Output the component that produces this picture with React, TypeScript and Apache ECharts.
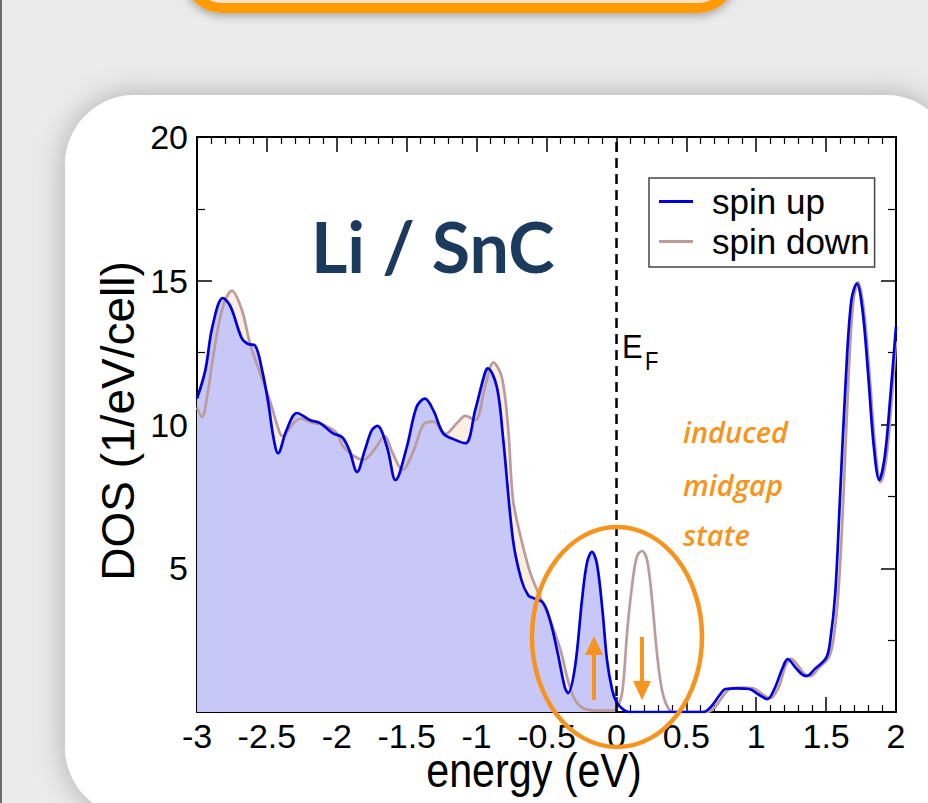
import React, { useEffect, useRef } from "react";
import * as echarts from "echarts";

// ---- data ----
const upEnergy = [
  -3.0, -2.94, -2.89, -2.815, -2.76, -2.68, -2.635, -2.585, -2.535, -2.49, -2.455, -2.42, -2.36, -2.285,
  -2.19, -2.12, -2.03, -1.96, -1.91, -1.855, -1.8, -1.75, -1.71, -1.64, -1.58, -1.5, -1.43, -1.37, -1.31,
  -1.24, -1.17, -1.08, -1.01, -0.94, -0.92, -0.855, -0.81, -0.74, -0.68, -0.63, -0.597, -0.525, -0.475,
  -0.42, -0.37, -0.346, -0.296, -0.246, -0.21, -0.175, -0.14, -0.1, -0.067, -0.03, 0.0, 0.045, 0.09, 0.62,
  0.68, 0.74, 0.78, 0.86, 0.95, 1.02, 1.08, 1.13, 1.19, 1.225, 1.28, 1.33, 1.36, 1.42, 1.5, 1.53, 1.565,
  1.6, 1.64, 1.68, 1.72, 1.76, 1.8, 1.84, 1.88, 1.92, 1.96, 2.0,
];
const upDos = [
  10.9, 11.9, 13.4, 14.4, 14.1, 13.0, 12.8, 12.75, 11.9, 10.75, 9.6, 9.0, 9.8, 10.4,
  10.15, 10.05, 9.7, 9.55, 9.1, 8.35, 9.1, 9.8, 9.95, 9.2, 8.07, 9.2, 10.6, 10.9, 10.5,
  9.7, 9.5, 9.35, 10.5, 11.8, 11.95, 11.3, 9.5, 6.0, 4.6, 4.05, 3.97, 3.8, 3.2,
  2.05, 0.87, 0.66, 1.57, 3.9, 5.2, 5.57, 5.17, 3.55, 1.8, 0.77, 0.35, 0.1, 0.0, 0.0,
  0.2, 0.6, 0.8, 0.82, 0.8, 0.6, 0.45, 0.8, 1.55, 1.84, 1.55, 1.3, 1.25, 1.5, 1.88, 2.5, 4.1,
  7.5, 11.5, 14.3, 14.9, 14.0, 11.8, 9.3, 8.07, 8.9, 11.0, 13.4,
];
const downEnergy = [
  -3.0, -2.965, -2.92, -2.89, -2.82, -2.75, -2.68, -2.62, -2.55, -2.48, -2.41, -2.385, -2.31, -2.26,
  -2.17, -2.1, -2.0, -1.95, -1.81, -1.72, -1.66, -1.6, -1.53, -1.45, -1.38, -1.31, -1.225, -1.14, -1.08,
  -1.01, -0.94, -0.88, -0.82, -0.775, -0.74, -0.69, -0.62, -0.546, -0.475, -0.4, -0.346, -0.296, -0.24,
  -0.15, -0.02, 0.02, 0.045, 0.08, 0.12, 0.15, 0.183, 0.219, 0.255, 0.29, 0.326, 0.37, 0.42, 0.65,
  0.71, 0.77, 0.82, 0.9, 0.98, 1.05, 1.1, 1.16, 1.21, 1.25, 1.3, 1.35, 1.39, 1.45, 1.52, 1.555, 1.59,
  1.625, 1.66, 1.695, 1.73, 1.77, 1.81, 1.85, 1.89, 1.93, 1.97, 2.0,
];
const downDos = [
  10.6, 10.26, 11.2, 12.2, 14.0, 14.65, 14.0, 12.8, 11.8, 10.85, 9.74, 9.6, 10.05, 10.2,
  10.05, 10.0, 9.7, 9.2, 8.77, 9.2, 9.6, 9.0, 8.42, 9.1, 10.0, 10.1, 9.67, 10.05, 10.3,
  10.15, 11.3, 12.15, 11.65, 9.9, 7.4, 6.2, 4.9, 4.0, 3.2, 2.16, 1.1, 0.42, 0.14,
  0.05, 0.05, 0.3, 0.8, 2.96, 4.7, 5.45, 5.6, 5.3, 3.9, 2.05, 0.77, 0.14, 0.0, 0.0,
  0.2, 0.6, 0.82, 0.85, 0.82, 0.6, 0.48, 0.85, 1.6, 1.85, 1.6, 1.3, 1.25, 1.55, 1.9, 2.6, 4.3,
  7.6, 11.6, 14.3, 14.95, 14.0, 11.8, 9.3, 8.0, 8.8, 10.9, 12.9,
];
const seriesNames = ["spin up", "spin down"];
const fermiEnergy = 0;
const annotationLines = ["induced", "midgap", "state"];

const BLUE = "#0000dc";
const BROWN = "#bb9b9b";
const ORANGE = "#f7941d";
const FONT = "Liberation Sans, Arial, sans-serif";

const pairs = (xs: number[], ys: number[]) => xs.map((x, i) => [x, ys[i]]);
const occupied = (xs: number[], ys: number[]) =>
  pairs(xs, ys).filter((p) => p[0] <= fermiEnergy);

const SMOOTH = 0.35;

function buildOption() {
  const tickLabel = { fontSize: 34, color: "#000", fontFamily: FONT };
  const axisLine = { show: true, onZero: false, lineStyle: { color: "#000", width: 2 } };
  const xCommon = {
    type: "value",
    min: -3,
    max: 2,
    interval: 0.5,
    axisLine,
    axisTick: { show: true, inside: true, length: 15, lineStyle: { color: "#000", width: 1.5 } },
    minorTick: { show: true, splitNumber: 5, length: 7, lineStyle: { color: "#000", width: 1.2 } },
    splitLine: { show: false },
    minorSplitLine: { show: false },
  };
  const yCommon = {
    type: "value",
    min: 0,
    max: 20,
    interval: 5,
    axisLine,
    axisTick: { show: true, inside: true, length: 15, lineStyle: { color: "#000", width: 1.5 } },
    minorTick: { show: true, splitNumber: 2, length: 8, lineStyle: { color: "#000", width: 1.2 } },
    splitLine: { show: false },
    minorSplitLine: { show: false },
  };

  const annotationY = [417, 470, 520];
  const annotationTexts = annotationLines.map((t, i) => ({
    type: "text",
    z: 20,
    x: 683,
    y: annotationY[i],
    style: {
      text: t,
      fill: ORANGE,
      fontSize: 29,
      fontStyle: "italic",
      fontWeight: 600,
      fontFamily: "Open Sans, sans-serif",
    },
  }));

  return {
    animation: false,
    backgroundColor: "#ebebeb",
    grid: { left: 197, top: 137, width: 699, height: 575, containLabel: false },
    legend: {
      data: seriesNames,
      orient: "vertical",
      left: 649,
      top: 178,
      backgroundColor: "#fff",
      borderColor: "#444",
      borderWidth: 1.5,
      borderRadius: 0,
      padding: [6, 5, 8, 10],
      itemGap: 5,
      itemWidth: 34,
      itemHeight: 3,
      icon: "rect",
      textStyle: {
        fontSize: 35,
        color: "#000",
        fontFamily: FONT,
        padding: [0, 0, 0, 14],
      },
    },
    xAxis: [
      {
        ...xCommon,
        position: "bottom",
        axisLabel: { ...tickLabel, margin: 7, formatter: (v: number) => String(v) },
      },
      { ...xCommon, position: "top", axisLabel: { show: false } },
    ],
    yAxis: [
      {
        ...yCommon,
        position: "left",
        axisLabel: { ...tickLabel, margin: 9, formatter: (v: number) => (v === 0 ? "" : String(v)) },
      },
      { ...yCommon, position: "right", axisLabel: { show: false } },
    ],
    series: [
      {
        name: "spin down fill",
        type: "line",
        data: occupied(downEnergy, downDos),
        smooth: SMOOTH,
        showSymbol: false,
        silent: true,
        lineStyle: { width: 0 },
        areaStyle: { color: "#fdeee2", opacity: 1 },
        z: 1,
      },
      {
        name: "spin up fill",
        type: "line",
        data: occupied(upEnergy, upDos),
        smooth: SMOOTH,
        showSymbol: false,
        silent: true,
        lineStyle: { width: 0 },
        areaStyle: { color: "#c8c8f8", opacity: 1 },
        z: 1,
      },
      {
        name: "spin down",
        type: "line",
        data: pairs(downEnergy, downDos),
        smooth: SMOOTH,
        showSymbol: false,
        itemStyle: { color: BROWN },
        lineStyle: { color: BROWN, width: 2.7 },
        z: 3,
      },
      {
        name: "spin up",
        type: "line",
        data: pairs(upEnergy, upDos),
        smooth: SMOOTH,
        showSymbol: false,
        itemStyle: { color: BLUE },
        lineStyle: { color: BLUE, width: 2.7 },
        z: 4,
        markLine: {
          silent: true,
          symbol: ["none", "none"],
          label: { show: false },
          lineStyle: { color: "#000", type: [10, 6], width: 2.5 },
          data: [{ xAxis: fermiEnergy }],
        },
      },
    ],
    graphic: [
      // page decorations
      { type: "rect", z: -30, shape: { x: 0, y: 0, width: 2, height: 803 }, style: { fill: "#6a6a6a" } },
      {
        type: "rect",
        z: -20,
        shape: { x: 188, y: -60, width: 544, height: 68, r: 38 },
        style: {
          fill: "#fde3cc",
          stroke: "#ff9b00",
          lineWidth: 10,
          shadowBlur: 8,
          shadowOffsetY: 3,
          shadowColor: "rgba(0,0,0,0.3)",
        },
      },
      {
        type: "rect",
        z: -20,
        shape: { x: 65, y: 95, width: 890, height: 722, r: 70 },
        style: { fill: "#ffffff", shadowBlur: 30, shadowColor: "rgba(0,0,0,0.28)" },
      },
      // axis titles
      {
        type: "text",
        z: 20,
        x: 534,
        y: 770,
        scaleX: 0.86,
        style: {
          text: "energy (eV)",
          fill: "#000",
          fontSize: 48,
          fontFamily: FONT,
          align: "center",
          verticalAlign: "middle",
        },
      },
      {
        type: "text",
        z: 20,
        x: 118,
        y: 421,
        rotation: Math.PI / 2,
        style: {
          text: "DOS (1/eV/cell)",
          fill: "#000",
          fontSize: 46,
          fontFamily: FONT,
          align: "center",
          verticalAlign: "middle",
        },
      },
      // title
      {
        type: "text",
        z: 20,
        x: 311,
        y: 211,
        style: {
          text: "Li / SnC",
          fill: "#1b3a5e",
          fontSize: 70,
          fontWeight: "bold",
          fontFamily: "Lato, sans-serif",
        },
      },
      // Fermi label
      {
        type: "text",
        z: 20,
        x: 622,
        y: 346,
        scaleY: 1.1,
        style: { text: "E", fill: "#000", fontSize: 31, fontFamily: FONT, verticalAlign: "middle" },
      },
      {
        type: "text",
        z: 20,
        x: 645,
        y: 361,
        scaleY: 1.15,
        style: { text: "F", fill: "#000", fontSize: 22, fontFamily: FONT, verticalAlign: "middle" },
      },
      ...annotationTexts,
      // midgap ellipse and spin arrows
      {
        type: "ellipse",
        z: 30,
        shape: { cx: 617, cy: 637, rx: 85, ry: 110 },
        style: { fill: "none", stroke: ORANGE, lineWidth: 4.5 },
      },
      {
        type: "line",
        z: 30,
        shape: { x1: 594, y1: 700, x2: 594, y2: 652 },
        style: { stroke: ORANGE, lineWidth: 4 },
      },
      {
        type: "polygon",
        z: 30,
        shape: { points: [[585, 655], [603, 655], [594, 636]] },
        style: { fill: ORANGE },
      },
      {
        type: "line",
        z: 30,
        shape: { x1: 642, y1: 637, x2: 642, y2: 684 },
        style: { stroke: ORANGE, lineWidth: 4 },
      },
      {
        type: "polygon",
        z: 30,
        shape: { points: [[633, 681], [651, 681], [642, 700]] },
        style: { fill: ORANGE },
      },
    ],
  };
}

export default function App() {
  const ref = useRef<HTMLDivElement>(null);
  useEffect(() => {
    if (!ref.current) return;
    const chart = echarts.init(ref.current, undefined, { renderer: "svg" });
    chart.setOption(buildOption() as any);
    return () => chart.dispose();
  }, []);
  return (
    <div
      ref={ref}
      style={{ position: "absolute", left: 0, top: 0, width: 928, height: 803, overflow: "hidden" }}
    />
  );
}
